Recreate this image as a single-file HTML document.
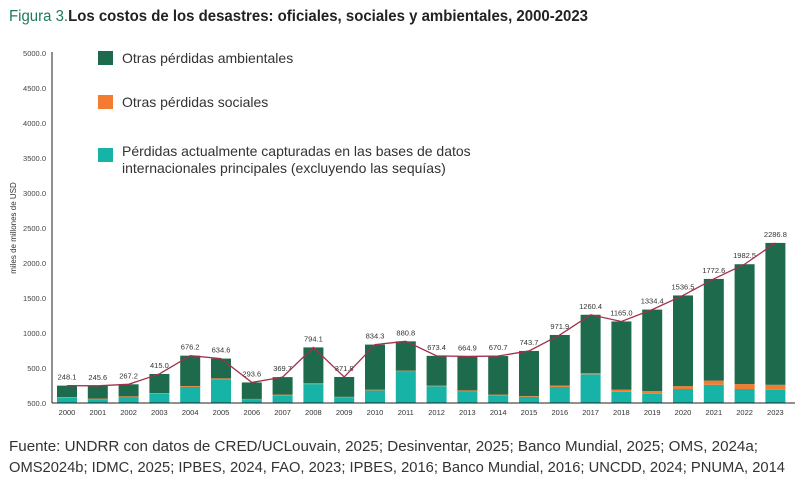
<!DOCTYPE html>
<html><head><meta charset="utf-8"><style>
body{margin:0;background:#fff;width:801px;height:484px;overflow:hidden;font-family:"Liberation Sans",sans-serif}
svg{position:absolute;left:0;top:0}
</style></head><body>
<svg id="c" width="801" height="484">
<text x="9" y="21" font-size="15.5" textLength="579" lengthAdjust="spacingAndGlyphs"><tspan fill="#1e7a5a">Figura 3.</tspan><tspan fill="#222" font-weight="bold">Los costos de los desastres: oficiales, sociales y ambientales, 2000-2023</tspan></text>
<g>
<rect x="98" y="51" width="15" height="14" fill="#1e6a4d"/>
<text x="122" y="63" font-size="14" fill="#333">Otras pérdidas ambientales</text>
<rect x="98" y="95" width="15" height="14" fill="#f47c30"/>
<text x="122" y="107" font-size="14" fill="#333">Otras pérdidas sociales</text>
<rect x="98" y="148" width="15" height="14" fill="#17b3a6"/>
<text x="122" y="156" font-size="14" fill="#333">Pérdidas actualmente capturadas en las bases de datos</text>
<text x="122" y="173" font-size="14" fill="#333">internacionales principales (excluyendo las sequías)</text>
</g>
<text transform="translate(16,228) rotate(-90)" text-anchor="middle" font-size="8" fill="#333">miles de millones de USD</text>
<text x="9" y="451" font-size="14.5" fill="#333" textLength="749" lengthAdjust="spacingAndGlyphs">Fuente: UNDRR con datos de CRED/UCLouvain, 2025; Desinventar, 2025; Banco Mundial, 2025; OMS, 2024a;</text>
<text x="9" y="472" font-size="14.5" fill="#333" textLength="776" lengthAdjust="spacingAndGlyphs">OMS2024b; IDMC, 2025; IPBES, 2024, FAO, 2023; IPBES, 2016; Banco Mundial, 2016; UNCDD, 2024; PNUMA, 2014</text>
</svg>
<script>
const years=[2000,2001,2002,2003,2004,2005,2006,2007,2008,2009,2010,2011,2012,2013,2014,2015,2016,2017,2018,2019,2020,2021,2022,2023];
const totals=[248.1,245.6,267.2,415.0,676.2,634.6,293.6,369.7,794.1,371.8,834.3,880.8,673.4,664.9,670.7,743.7,971.9,1260.4,1165.0,1334.4,1536.5,1772.6,1982.5,2286.8];
const captured=[75,55,85,130,230,340,50,110,270,80,180,450,240,170,110,90,230,410,160,130,200,260,200,190];
const social=[8,8,10,10,12,12,8,10,12,8,10,12,10,10,10,10,20,15,30,40,40,60,70,70];
const yTicks=[0,500,1000,1500,2000,2500,3000,3500,4000,4500,5000];
const yTickLabels=["500.0","500.0","1000.0","1500.0","2000.0","2500.0","3000.0","3500.0","4000.0","4500.0","5000.0"];
const svg=document.getElementById('c');const NS='http://www.w3.org/2000/svg';
const y0=403,ppu=350/5000;
const y=v=>y0-v*ppu;
const x=i=>67+i*30.8;
function mk(t,a){const e=document.createElementNS(NS,t);for(const k in a)e.setAttribute(k,a[k]);svg.appendChild(e);return e;}
yTicks.forEach((t,i)=>{
const e=mk('text',{x:46,y:y(t)+3,'text-anchor':'end','font-size':7.5,fill:'#444'});


e.textContent=yTickLabels[i];
});
years.forEach((yr,i)=>{
const cx=x(i),w=20;
const env=totals[i]-captured[i]-social[i];
const b1=mk('rect',{x:cx-w/2,y:y(captured[i]),width:w,height:captured[i]*ppu,fill:'#17b3a6'});


const b2=mk('rect',{x:cx-w/2,y:y(captured[i]+social[i]),width:w,height:social[i]*ppu,fill:'#f47c30'});


const b3=mk('rect',{x:cx-w/2,y:y(totals[i]),width:w,height:env*ppu,fill:'#1e6a4d'});


const t=mk('text',{x:cx,y:415,'text-anchor':'middle','font-size':7.5,fill:'#333'});


t.textContent=yr;
const v=mk('text',{x:cx,y:y(totals[i])-6,'text-anchor':'middle','font-size':7.5,fill:'#333'});


v.textContent=totals[i].toFixed(1);
});
const line=mk('polyline',{points:totals.map((v,i)=>x(i)+','+y(v)).join(' '),fill:'none',stroke:'#a3304a','stroke-width':1.3});


const ax=mk('line',{x1:52,y1:52,x2:52,y2:y0,stroke:'#222','stroke-width':1});


const bx=mk('line',{x1:52,y1:y0,x2:795,y2:y0,stroke:'#222','stroke-width':1});


</script>
</body></html>
